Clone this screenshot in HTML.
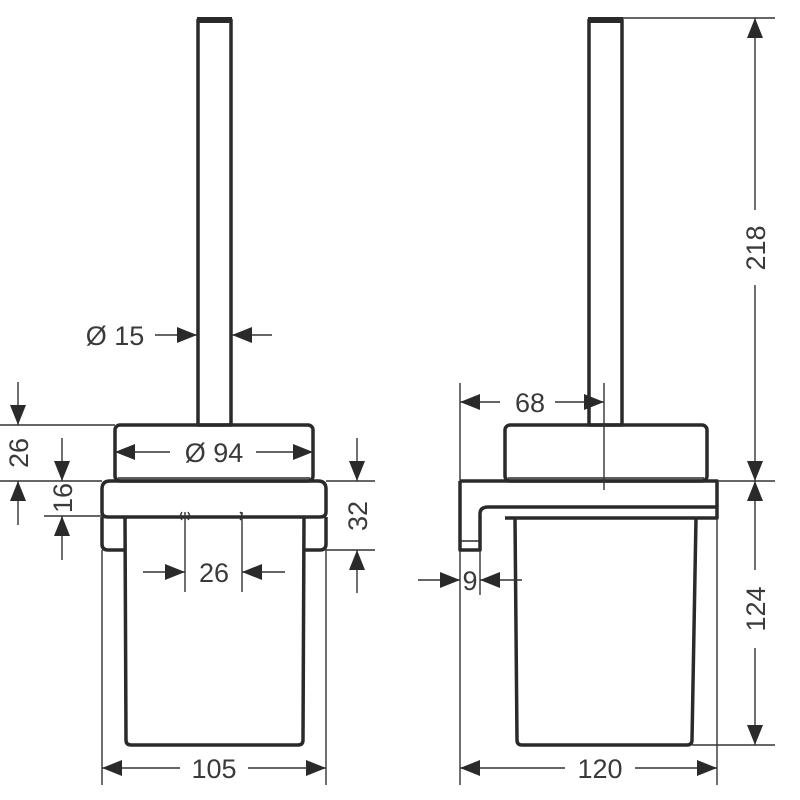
<!DOCTYPE html>
<html><head><meta charset="utf-8"><style>
html,body{margin:0;padding:0;background:#fff;width:800px;height:800px;overflow:hidden}
svg{display:block}
text{font-family:"Liberation Sans",sans-serif;font-size:27px;fill:#3a3a3a}
</style></head><body>
<svg width="800" height="800" viewBox="0 0 800 800" xmlns="http://www.w3.org/2000/svg">
<defs>
<marker id="a" markerWidth="22" markerHeight="18" refX="20" refY="8" orient="auto" markerUnits="userSpaceOnUse">
<path d="M0,0 L20,8 L0,16 Z" fill="#2a2a2a"/></marker>
</defs>
<g fill="none" stroke="#2a2a2a" stroke-width="3.5" stroke-linejoin="round">
<rect x="198" y="20" width="33" height="405"/>
<rect x="115" y="425" width="198" height="56" rx="5"/>
<line x1="118" y1="478" x2="310" y2="478" stroke-width="1.5"/>
<path d="M102,489 Q102,481 110,481 L318,481 Q326,481 326,489 L326,512 Q326,517 320,517 L108,517 Q102,517 102,512 Z"/>
<path d="M102,517 L102,544 Q102,550 108,550 L125,550"/>
<path d="M326,517 L326,544 Q326,550 320,550 L304,550"/>
<path d="M125,517 L126,740 Q126,745 131,745 L298,745 Q303,745 303,740 L304,517"/>
<rect x="589" y="20" width="33" height="405"/>
<rect x="505" y="425" width="202" height="56" rx="5"/>
<line x1="508" y1="478" x2="704" y2="478" stroke-width="1.5"/>
<path d="M460,481 L717,481 L717,518 L505,518"/>
<path d="M460,481 L460,550 L480,550 L480,514 Q480,507 488,507 L717,507"/>
<line x1="460" y1="541" x2="480" y2="541" stroke-width="1.5"/>
<path d="M515,518 L517,740 Q517,745 522,745 L687,745 Q692,745 692,740 L696,518"/>
</g>
<rect x="197" y="17" width="35" height="6" fill="#2a2a2a"/>
<rect x="588" y="17" width="35" height="6" fill="#2a2a2a"/>
<g stroke="#333" stroke-width="1.4" fill="none">
<line x1="0" y1="425" x2="115" y2="425"/>
<line x1="0" y1="481" x2="102" y2="481"/>
<line x1="44" y1="516" x2="102" y2="516"/>
<line x1="326" y1="481" x2="375" y2="481"/>
<line x1="326" y1="550" x2="375" y2="550"/>
<line x1="185" y1="512" x2="185" y2="592"/>
<line x1="242" y1="512" x2="242" y2="592"/>
<line x1="102" y1="550" x2="102" y2="785"/>
<line x1="326" y1="550" x2="326" y2="785"/>
<line x1="18" y1="382" x2="18" y2="425" marker-end="url(#a)"/>
<line x1="18" y1="525" x2="18" y2="481" marker-end="url(#a)"/>
<line x1="62" y1="438" x2="62" y2="481" marker-end="url(#a)"/>
<line x1="62" y1="560" x2="62" y2="516" marker-end="url(#a)"/>
<line x1="357" y1="438" x2="357" y2="481" marker-end="url(#a)"/>
<line x1="357" y1="593" x2="357" y2="550" marker-end="url(#a)"/>
<line x1="170" y1="452" x2="115" y2="452" marker-end="url(#a)"/>
<line x1="256" y1="452" x2="313" y2="452" marker-end="url(#a)"/>
<line x1="155" y1="335" x2="197" y2="335" marker-end="url(#a)"/>
<line x1="272" y1="335" x2="232" y2="335" marker-end="url(#a)"/>
<line x1="143" y1="572" x2="185" y2="572" marker-end="url(#a)"/>
<line x1="285" y1="572" x2="242" y2="572" marker-end="url(#a)"/>
<line x1="180" y1="768" x2="102" y2="768" marker-end="url(#a)"/>
<line x1="248" y1="768" x2="326" y2="768" marker-end="url(#a)"/>
<line x1="622" y1="18" x2="775" y2="18"/>
<line x1="717" y1="481" x2="775" y2="481"/>
<line x1="692" y1="745" x2="775" y2="745"/>
<line x1="460" y1="383" x2="460" y2="481"/>
<line x1="604" y1="383" x2="604" y2="490"/>
<line x1="460" y1="550" x2="460" y2="785"/>
<line x1="480" y1="550" x2="480" y2="595"/>
<line x1="717" y1="518" x2="717" y2="785"/>
<line x1="500" y1="402" x2="460" y2="402" marker-end="url(#a)"/>
<line x1="555" y1="402" x2="604" y2="402" marker-end="url(#a)"/>
<line x1="418" y1="580" x2="460" y2="580" marker-end="url(#a)"/>
<line x1="522" y1="580" x2="480" y2="580" marker-end="url(#a)"/>
<line x1="565" y1="768" x2="460" y2="768" marker-end="url(#a)"/>
<line x1="635" y1="768" x2="717" y2="768" marker-end="url(#a)"/>
<line x1="755" y1="210" x2="755" y2="18" marker-end="url(#a)"/>
<line x1="755" y1="285" x2="755" y2="481" marker-end="url(#a)"/>
<line x1="755" y1="570" x2="755" y2="481" marker-end="url(#a)"/>
<line x1="755" y1="648" x2="755" y2="745" marker-end="url(#a)"/>
<path d="M182,512 Q179,516 182,520 M188,512 Q191,516 188,520 M240,512 Q244,516 240,520"/>
</g>
<text x="115" y="345" text-anchor="middle">Ø 15</text>
<text x="214" y="462" text-anchor="middle">Ø 94</text>
<text x="214" y="582" text-anchor="middle">26</text>
<text x="214" y="778" text-anchor="middle">105</text>
<text x="530" y="412" text-anchor="middle">68</text>
<text x="470" y="590" text-anchor="middle">9</text>
<text x="600" y="778" text-anchor="middle">120</text>
<text transform="translate(28,453) rotate(-90)" text-anchor="middle">26</text>
<text transform="translate(72,498) rotate(-90)" text-anchor="middle">16</text>
<text transform="translate(367,516) rotate(-90)" text-anchor="middle">32</text>
<text transform="translate(765,248) rotate(-90)" text-anchor="middle">218</text>
<text transform="translate(765,609) rotate(-90)" text-anchor="middle">124</text>
</svg>
</body></html>
